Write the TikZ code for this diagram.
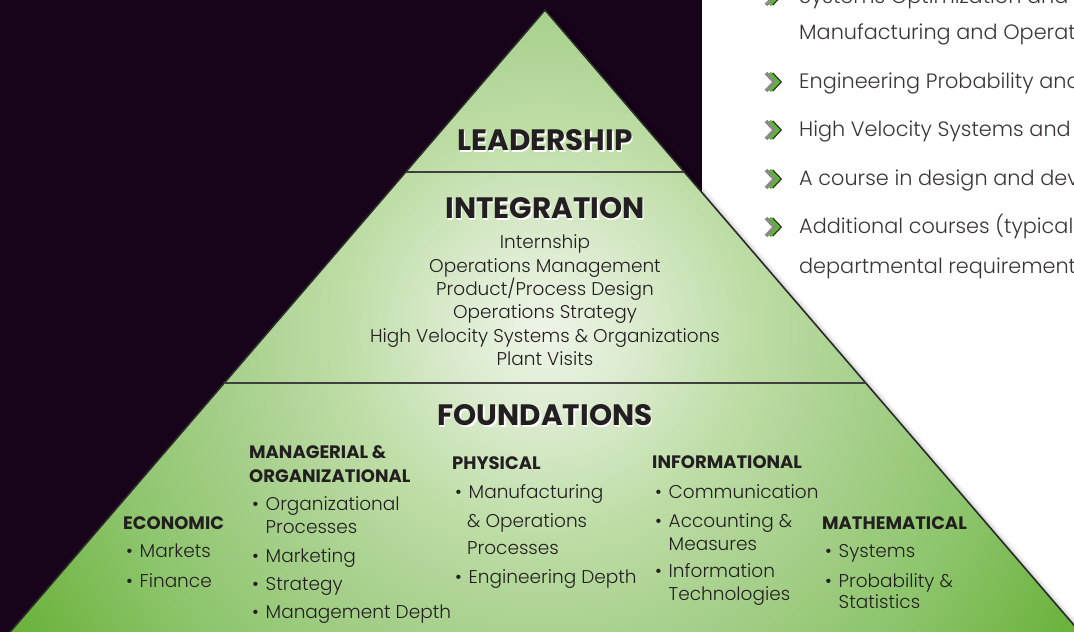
\documentclass[tikz,border=0pt]{standalone}
\usepackage{fontspec}
\setmainfont{Poppins}[UprightFont={* Light},BoldFont={* Bold}]
\usetikzlibrary{calc}

\definecolor{night}{HTML}{18041A}
\definecolor{ink}{HTML}{231F20}
\definecolor{edge}{HTML}{2A2A2A}
\definecolor{chevgreen}{HTML}{5DB531}
\definecolor{chevgray}{HTML}{8A8A8A}
\definecolor{gA}{HTML}{EEF5E8}
\definecolor{gB}{HTML}{DDECD1}
\definecolor{gC}{HTML}{BEDDA6}
\definecolor{gD}{HTML}{A7D08C}
\definecolor{gE}{HTML}{8CC46A}
\definecolor{gF}{HTML}{62AE30}

% soft light centre fading to saturated green at the corners
\pgfdeclareradialshading{pyrglow}{\pgfpointorigin}{%
  color(0bp)=(gA); color(3.25bp)=(gB); color(8bp)=(gC);
  color(12.5bp)=(gD); color(18bp)=(gE); color(25bp)=(gF); color(50bp)=(gF)}

\tikzset{
  title/.style={font=\bfseries\fontsize{29.5}{29.5}\selectfont, text=ink, inner sep=0pt, anchor=base},
  titleshadow/.style={title, text=white},
  course/.style={font=\fontsize{18.5}{18.5}\selectfont, text=ink, inner sep=0pt, anchor=base},
  head/.style={font=\bfseries\fontsize{18}{18}\selectfont, text=ink, inner sep=0pt, anchor=base west},
  item/.style={font=\fontsize{18.5}{18.5}\selectfont, text=ink, inner sep=0pt, anchor=base west},
  listtext/.style={font=\fontsize{20.8}{20.8}\selectfont, text=ink!90, inner sep=0pt, anchor=base west},
  sideline/.style={draw=edge, line width=1.6pt},
  tierline/.style={draw=edge!90, line width=2pt},
}

\newcommand{\bul}{\makebox[13.5pt][l]{•}}
% double chevron bullet used in the course list
\newcommand{\chevronmark}[1]{%
  \draw[chevgray, line width=3.6pt] ($(#1)+(0,-9)$) -- ($(#1)+(8.5,0)$) -- ($(#1)+(0,9)$);
  \draw[edge, line width=1.6pt] ($(#1)+(6.5,-9)$) -- ($(#1)+(15,0)$) -- ($(#1)+(6.5,9)$);
  \draw[chevgreen, line width=3pt] ($(#1)+(3.8,-9)$) -- ($(#1)+(12.3,0)$) -- ($(#1)+(3.8,9)$);
}

\begin{document}
\begin{tikzpicture}[x=1pt,y=-1pt]
\useasboundingbox (0,0) rectangle (1074,632);
\fill[white] (0,0) rectangle (1074,632);
\fill[night] (0,0) rectangle (702,632);

% pyramid corners (base runs past the lower edge)
\coordinate (apex) at (545,10);
\coordinate (bl) at (3.2,640);
\coordinate (br) at (1086.8,640);
\coordinate (l1) at (405.7,172);
\coordinate (r1) at (684.3,172);
\coordinate (l2) at (224.2,383);
\coordinate (r2) at (865.8,383);

% faint drop shadow along the right flank
\foreach \d/\o in {1/0.10,2/0.08,3/0.06,4/0.045,5/0.03,6/0.02,7/0.012}
  \draw[black, opacity=\o, line width=1.2pt] ($(apex)+(\d,0)$) -- ($(br)+(\d,0)$);

\begin{scope}
  \clip (apex) -- (bl) -- (br) -- cycle;
  \shade[shading=pyrglow] (545,330) circle [radius=640pt];
\end{scope}
\draw[sideline] (bl) -- (apex) -- (br);
\draw[tierline] (l1) -- (r1);
\draw[tierline] (l2) -- (r2);

% tier titles with white offset shadow
\node[titleshadow] (leadS) at (546.5,152.5) {LEADERSHIP};
\node[title] (lead) at (545,150) {LEADERSHIP};
\node[titleshadow] (integS) at (546.5,220.5) {INTEGRATION};
\node[title] (integ) at (545,218) {INTEGRATION};
\node[titleshadow] (foundS) at (546.5,427.5) {FOUNDATIONS};
\node[title] (found) at (545,425) {FOUNDATIONS};

% integration courses
\node[course] (i1) at (545,248) {Internship};
\node[course] (i2) at (545,272) {Operations Management};
\node[course] (i3) at (545,295) {Product/Process Design};
\node[course] (i4) at (545,318) {Operations Strategy};
\node[course] (i5) at (545,342) {High Velocity Systems \& Organizations};
\node[course] (i6) at (545,365) {Plant Visits};

% foundations: economic
\node[head] (eco) at (123,529) {ECONOMIC};
\node[item] (eco1) at (126,557) {\bul Markets};
\node[item] (eco2) at (126,587) {\bul Finance};

% foundations: managerial & organizational
\node[head] (man) at (249,458) {MANAGERIAL \&};
\node[head] (man0) at (249,482) {ORGANIZATIONAL};
\node[item] (man1) at (252,510) {\bul Organizational};
\node[item] (man1b) at (265.5,533) {Processes};
\node[item] (man2) at (252,562) {\bul Marketing};
\node[item] (man3) at (252,590) {\bul Strategy};
\node[item] (man4) at (252,618) {\bul Management Depth};

% foundations: physical
\node[head] (phy) at (452,469) {PHYSICAL};
\node[item] (phy1) at (455,498) {\bul Manufacturing};
\node[item] (phy1b) at (467,527) {\& Operations};
\node[item] (phy1c) at (467,554) {Processes};
\node[item] (phy2) at (455,583) {\bul Engineering Depth};

% foundations: informational
\node[head] (inf) at (652,468) {INFORMATIONAL};
\node[item] (inf1) at (655,498) {\bul Communication};
\node[item] (inf2) at (655,527) {\bul Accounting \&};
\node[item] (inf2b) at (668.5,550) {Measures};
\node[item] (inf3) at (655,577) {\bul Information};
\node[item] (inf3b) at (668.5,600) {Technologies};

% foundations: mathematical
\node[head] (mat) at (822,529) {MATHEMATICAL};
\node[item] (mat1) at (825,557) {\bul Systems};
\node[item] (mat2) at (825,587) {\bul Probability \&};
\node[item] (mat2b) at (838.5,608) {Statistics};

% course list beside the pyramid
\coordinate (ch0) at (766,-4);
\coordinate (ch1) at (766,82);
\coordinate (ch2) at (766,130);
\coordinate (ch3) at (766,179);
\coordinate (ch4) at (766,227);
\chevronmark{ch0}
\chevronmark{ch1}
\chevronmark{ch2}
\chevronmark{ch3}
\chevronmark{ch4}
\node[listtext] (t0) at (799,3) {Systems Optimization and Analysis};
\node[listtext] (t0b) at (799,39.5) {Manufacturing and Operations};
\node[listtext] (t1) at (799,88.5) {Engineering Probability and Statistics};
\node[listtext] (t2) at (799,136.5) {High Velocity Systems and Organizations};
\node[listtext] (t3) at (799,185.5) {A course in design and development};
\node[listtext] (t4) at (799,233.5) {Additional courses (typically};
\node[listtext] (t4b) at (799,273.5) {departmental requirements};
\end{tikzpicture}
\end{document}
